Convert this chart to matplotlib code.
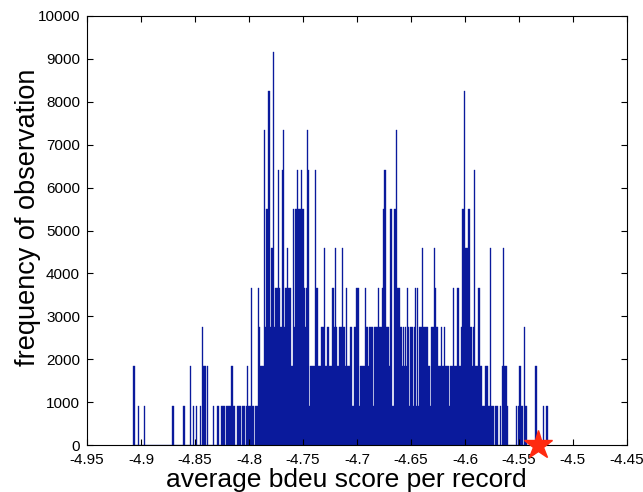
import numpy as np
import matplotlib
matplotlib.use("Agg")
import matplotlib.pyplot as plt

plt.rcParams['font.family'] = ['Liberation Sans', 'DejaVu Sans']

# histogram: bins of 0.001 starting at -4.9075, heights in multiples of one observation unit
bin_lo = -4.9075
bin_w = 0.001
unit = 916.67
levels = [
    2, 2, 0, 0, 0, 1, 0, 0, 0, 0,
    1, 0, 0, 0, 0, 0, 0, 0, 0, 0,
    0, 0, 0, 0, 0, 0, 0, 0, 0, 0,
    0, 0, 0, 0, 0, 0, 1, 1, 0, 0,
    0, 0, 0, 0, 0, 0, 1, 1, 0, 0,
    0, 0, 0, 2, 0, 0, 1, 0, 1, 0,
    0, 0, 1, 0, 3, 2, 2, 2, 0, 2,
    0, 0, 0, 0, 1, 0, 0, 0, 1, 1,
    0, 0, 1, 1, 1, 0, 1, 1, 1, 1,
    1, 2, 2, 1, 1, 0, 1, 1, 1, 1,
    0, 1, 1, 1, 0, 1, 2, 1, 1, 4,
    1, 1, 0, 1, 1, 1, 4, 3, 2, 2,
    2, 8, 3, 6, 6, 9, 9, 3, 5, 5,
    10, 3, 4, 4, 7, 4, 3, 3, 7, 8,
    3, 4, 4, 5, 4, 4, 2, 2, 6, 3,
    6, 6, 7, 6, 6, 6, 7, 6, 4, 3,
    4, 8, 7, 1, 2, 2, 2, 2, 2, 7,
    4, 2, 2, 2, 3, 3, 3, 5, 2, 2,
    3, 3, 2, 2, 4, 4, 3, 5, 3, 2,
    2, 3, 3, 3, 5, 3, 2, 4, 2, 2,
    2, 3, 3, 1, 1, 3, 3, 4, 4, 1,
    2, 2, 2, 2, 2, 4, 3, 3, 2, 3,
    3, 3, 1, 3, 3, 3, 3, 4, 3, 3,
    3, 4, 6, 7, 3, 3, 3, 2, 6, 6,
    1, 1, 6, 6, 8, 4, 4, 3, 3, 2,
    3, 2, 3, 2, 4, 3, 1, 3, 3, 1,
    3, 4, 1, 4, 1, 3, 3, 3, 5, 3,
    3, 3, 3, 2, 2, 1, 3, 3, 3, 5,
    4, 3, 3, 2, 2, 3, 2, 2, 3, 2,
    2, 2, 2, 1, 2, 2, 4, 2, 2, 2,
    4, 4, 2, 2, 3, 6, 6, 9, 5, 5,
    6, 6, 3, 3, 2, 3, 7, 2, 2, 2,
    4, 2, 2, 1, 1, 1, 2, 2, 2, 1,
    1, 5, 1, 1, 0, 1, 1, 1, 0, 0,
    1, 0, 2, 5, 2, 2, 1, 0, 0, 0,
    0, 0, 0, 0, 0, 1, 0, 1, 2, 1,
    1, 0, 3, 1, 1, 0, 0, 0, 0, 0,
    0, 0, 2, 2, 0, 0, 0, 0, 0, 0,
    1, 0, 0, 1, 0,
]
best_score = -4.532

heights = np.array(levels) * unit
centers = bin_lo + bin_w * (np.arange(len(levels)) + 0.5)

fig = plt.figure(figsize=(6.43, 4.92), dpi=100)
ax = fig.add_axes([0.1353, 0.0955, 0.8397, 0.872])

ax.bar(centers, heights, width=bin_w, color='#0a1a9c', edgecolor='#0a1a9c', linewidth=0.25)
ax.plot([best_score], [0], marker='*', color='#ff2a10', markersize=21,
        linestyle='none', clip_on=False, zorder=5)

ax.set_xlim(-4.95, -4.45)
ax.set_ylim(0, 10000)
xt = np.round(np.arange(-4.95, -4.449, 0.05), 2)
ax.set_xticks(xt)
ax.set_xticklabels(['%g' % v for v in xt])
ax.set_yticks(np.arange(0, 10001, 1000))
ax.tick_params(direction='in', top=True, right=True, labelsize=11, length=4)
ax.tick_params(axis='x', pad=6)
ax.tick_params(axis='y', pad=5)
ax.set_xlabel('average bdeu score per record', fontsize=19)
ax.set_ylabel('frequency of observation', fontsize=19.5)
ax.xaxis.set_label_coords(0.48, -0.054)
ax.yaxis.set_label_coords(-0.085, 0.53)

fig.savefig('out.png', dpi=100)
